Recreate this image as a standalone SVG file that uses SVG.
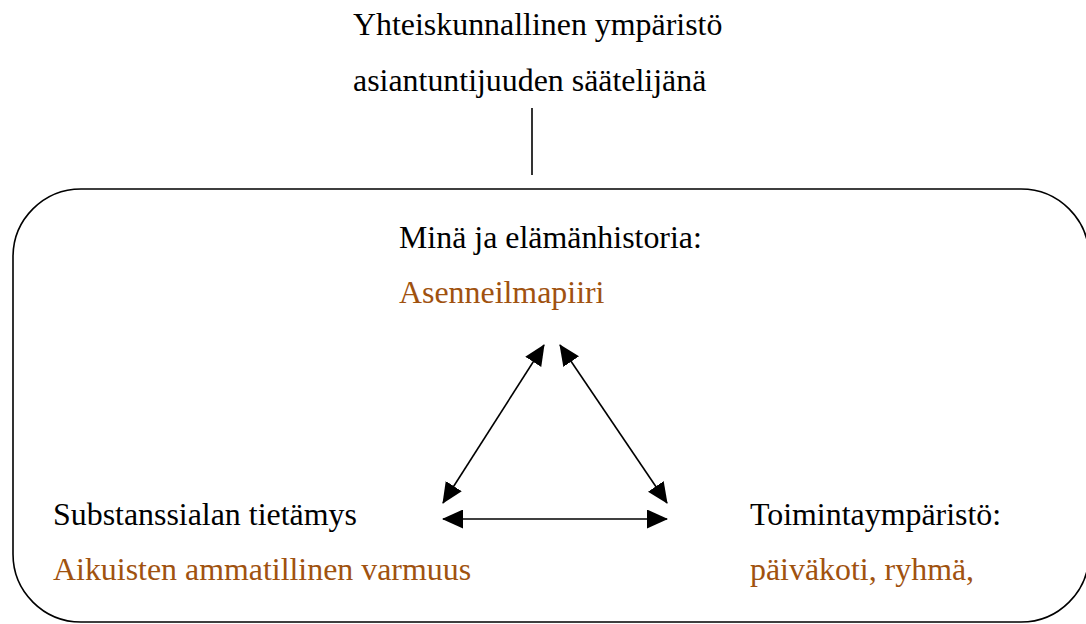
<svg xmlns="http://www.w3.org/2000/svg" width="1086" height="624" viewBox="0 0 1086 624">
  <defs>
    <style>
      .lbl { font-size: 31.9px; fill: #000; }
      .accent { fill: #A0520F; }
      .frame { fill: none; stroke: #000; stroke-width: 1.6; }
      .link { stroke: #000; stroke-width: 1.6; fill: none; marker-start: url(#head); marker-end: url(#head); }
    </style>
    <marker id="head" viewBox="0 0 21 19" refX="20" refY="9.5" markerWidth="21" markerHeight="19" markerUnits="userSpaceOnUse" orient="auto-start-reverse">
      <path d="M0,0 L21,9.5 L0,19 Z" fill="#000"/>
    </marker>
  </defs>

  <rect width="1086" height="624" fill="#fff"/>

  <g font-family="'Liberation Serif', 'Times New Roman', serif">
    <!-- heading above the frame -->
    <g id="society">
      <text class="lbl" x="353" y="35">Yhteiskunnallinen ympäristö</text>
      <text class="lbl" x="353" y="91">asiantuntijuuden säätelijänä</text>
    </g>

    <!-- rounded frame enclosing the triangle -->
    <g id="frame">
      <rect class="frame" x="13" y="189" width="1076" height="433" rx="68" ry="68"/>
    </g>

    <g id="self">
      <text class="lbl" x="399" y="248">Minä ja elämänhistoria:</text>
      <text class="lbl accent" x="399" y="303">Asenneilmapiiri</text>
    </g>

    <g id="knowledge">
      <text class="lbl" x="53" y="525">Substanssialan tietämys</text>
      <text class="lbl accent" x="53" y="580">Aikuisten ammatillinen varmuus</text>
    </g>

    <g id="environment">
      <text class="lbl" x="750" y="525">Toimintaympäristö:</text>
      <text class="lbl accent" x="750" y="580">päiväkoti, ryhmä,</text>
    </g>
  </g>

  <!-- connectors -->
  <g id="connectors">
    <line x1="532" y1="108" x2="532" y2="175" stroke="#000" stroke-width="1.6"/>
    <line class="link" x1="544" y1="345" x2="443" y2="503"/>
    <line class="link" x1="560" y1="345" x2="667" y2="503"/>
    <line class="link" x1="443" y1="519" x2="667" y2="519"/>
  </g>
</svg>
